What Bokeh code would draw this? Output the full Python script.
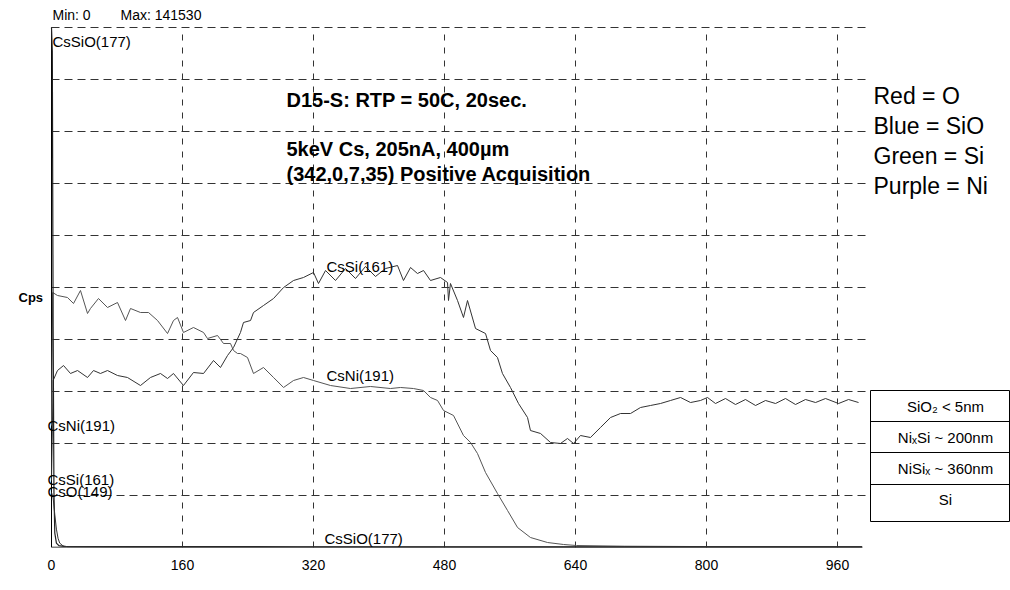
from bokeh.plotting import figure
from bokeh.models import Range1d, Label, FixedTicker
from bokeh.embed import file_html
from bokeh.resources import INLINE

# ---------------- data ----------------
Y_MAX = 141530
X_TICKS = [0, 160, 320, 480, 640, 800, 960]

NI_DEPTH = [0, 1.5, 7.3, 19.5, 26.9, 35.4, 44.0, 47.6, 57.4, 68.4,
            80.6, 90.4, 96.5, 108.7, 118.5, 129.5, 141.7, 149.0, 153.9, 161.2,
            173.4, 185.7, 190.5, 202.8, 210.1, 218.6, 222.3, 227.2, 230.8, 239.4,
            246.7, 258.9, 271.2, 283.4, 295.6, 307.8, 320.0, 340.8, 365.2, 389.6,
            414.1, 426.3, 442.1, 454.4, 462.9, 471.5, 478.8, 491.0, 503.2, 511.8,
            520.3, 530.1, 544.7, 557.0, 569.2, 585.0, 605.8, 625.4, 641.2, 700,
            800, 900, 990]
NI_CPS = [33200, 69400, 68590, 68040, 66410, 69950, 63690, 65050, 67770, 65320,
          66680, 61780, 65050, 63960, 63960, 61780, 58240, 61780, 62600, 58520,
          59880, 58520, 56880, 57700, 55520, 55520, 53620, 52800, 52800, 51710,
          47360, 48990, 46270, 43550, 45450, 46270, 45450, 44090, 43270, 43820,
          43270, 43550, 43270, 42730, 40830, 40010, 37290, 35930, 30480, 28580,
          25580, 20410, 14700, 10070, 5440, 2720, 1360, 820, 540, 350,
          250, 200, 180]

SI_DEPTH = [0, 2, 7.3, 14.7, 23.2, 31.8, 44.0, 51.3, 59.8, 68.4,
            80.6, 92.8, 108.7, 120.9, 133.1, 141.7, 149.0, 161.2, 173.4, 185.7,
            197.9, 206.4, 215.0, 222.3, 230.8, 234.5, 243.1, 246.7, 258.9, 271.2,
            283.4, 295.6, 307.8, 320.0, 326.1, 334.7, 346.9, 359.1, 371.3, 383.5,
            395.7, 408.0, 422.6, 429.9, 438.5, 447.0, 454.4, 462.9, 475.1, 483.7,
            484.9, 487.3, 495.9, 503.2, 508.1, 517.9, 530.1, 536.2, 544.7, 550.8,
            560.6, 570.4, 581.4, 585.0, 597.3, 609.5, 621.7, 630.2, 637.6, 646.1,
            658.3, 670.5, 682.8, 695.0, 707.2, 719.4, 731.6, 743.8, 756.1, 768.3,
            780.5, 792.7, 801.2, 811.0, 823.2, 835.4, 847.6, 859.9, 872.1, 884.3,
            896.5, 908.7, 920.9, 933.2, 945.4, 961.3, 973.5, 985.7]
SI_CPS = [18240, 45450, 48170, 49530, 47360, 48170, 46270, 48170, 47360, 48170,
          46810, 46270, 44090, 46270, 47360, 46000, 47360, 44090, 47630, 47360,
          50900, 48990, 52260, 54430, 58520, 61240, 61780, 63960, 65860, 67770,
          70760, 72670, 73490, 74850, 71850, 75390, 72670, 75930, 73210, 76480,
          73760, 75930, 76750, 72670, 76210, 74570, 75390, 72670, 73490, 72120,
          67220, 71850, 67220, 62600, 67220, 59600, 58240, 53620, 51710, 47360,
          43550, 39190, 35380, 31840, 31030, 28580, 28310, 29670, 28310, 30480,
          29940, 32660, 35380, 36470, 36470, 38100, 38650, 39190, 40010, 40830,
          39460, 40010, 40830, 39190, 40550, 38920, 40280, 38650, 40010, 39190,
          40550, 38920, 40280, 39460, 40550, 39190, 40280, 39460]

SIO_DEPTH = [0, 1, 2, 3, 4, 6, 9, 15, 100, 300, 500, 700, 990]
SIO_CPS = [141530, 135000, 60000, 15000, 4000, 1200, 500, 300, 250, 200, 180, 160, 150]

O_DEPTH = [0, 2, 4, 6, 8, 10, 14, 20, 100, 990]
O_CPS = [14970, 13500, 9000, 5000, 2500, 1200, 450, 200, 120, 100]

LEGEND_LINES = ["Red = O", "Blue = SiO", "Green = Si", "Purple = Ni"]
LAYERS = ["SiO\u2082 < 5nm", "Ni\u2093Si ~ 200nm", "NiSi\u2093 ~ 360nm", "Si"]

# ---------------- layout helpers (canvas pixel -> data) ----------------
W, H = 1010, 590
X0_PX, PX_PER_NM = 51, 131 / 160
AXIS_PX, TOP_PX = 547, 27


def dx(px):
    return (px - X0_PX) / PX_PER_NM


def vy(py):
    return (AXIS_PX - py) * Y_MAX / (AXIS_PX - TOP_PX)


FONT = "Liberation Sans"

p = figure(width=W, height=H, output_backend="svg", toolbar_location=None,
           x_range=Range1d(dx(0), dx(W)), y_range=Range1d(0, vy(0)),
           y_axis_location=None, min_border_left=0, min_border_right=0,
           min_border_top=0, min_border_bottom=H - AXIS_PX,
           outline_line_color=None, background_fill_color="white",
           border_fill_color="white")
p.grid.visible = False

ax = p.xaxis[0]
ax.ticker = FixedTicker(ticks=X_TICKS)
ax.axis_line_color = None
ax.major_tick_line_color = None
ax.minor_tick_line_color = None
ax.major_label_standoff = 6
ax.major_label_text_font = FONT
ax.major_label_text_font_size = "14px"
ax.major_label_text_color = "black"

# grid lines (dashed), limited to the plotting region
grid_end = dx(870)
hy = [Y_MAX * i / 10 for i in range(1, 11)]
p.segment(x0=[0] * len(hy), y0=hy, x1=[grid_end] * len(hy), y1=hy,
          line_color="#333333", line_width=1, line_dash="8 5")
vx = X_TICKS[1:]
p.segment(x0=vx, y0=[0] * len(vx), x1=vx, y1=[Y_MAX] * len(vx),
          line_color="#333333", line_width=1, line_dash="6 7")

# axis lines
p.segment(x0=[0], y0=[0], x1=[dx(862)], y1=[0], line_color="black", line_width=1.5)
p.segment(x0=[0], y0=[0], x1=[0], y1=[Y_MAX], line_color="black", line_width=1)

# curves
p.line(NI_DEPTH, NI_CPS, line_color="#555555", line_width=1)
p.line(SI_DEPTH, SI_CPS, line_color="#333333", line_width=1)
p.line(SIO_DEPTH, SIO_CPS, line_color="#222222", line_width=1.2)
p.line(O_DEPTH, O_CPS, line_color="#333333", line_width=1)


def lab(text, xpx, ypx, size, bold=False, align="left"):
    p.add_layout(Label(x=dx(xpx), y=vy(ypx), text=text, text_font=FONT,
                       text_font_size=f"{size}px",
                       text_font_style="bold" if bold else "normal",
                       text_baseline="middle", text_align=align,
                       text_color="black"))


lab("Min: 0", 52, 14, 14)
lab("Max: 141530", 120, 14, 14)
lab("Cps", 18, 297, 13, bold=True)
lab("Depth (nm)", 482, 581, 13, bold=True, align="center")

lab("D15-S: RTP = 50C, 20sec.", 286, 99, 20, bold=True)
lab("5keV Cs, 205nA, 400\u00b5m", 286, 148, 20, bold=True)
lab("(342,0,7,35) Positive Acquisition", 286, 173, 20, bold=True)

for txt, ypx in zip(LEGEND_LINES, [95, 125, 155, 185]):
    lab(txt, 873, ypx, 23)

# curve labels
lab("CsSiO(177)", 52, 41, 15)
lab("CsNi(191)", 47, 425, 15)
lab("CsSi(161)", 47, 479, 15)
lab("CsO(149)", 47, 491, 15)
lab("CsSi(161)", 326, 266, 15)
lab("CsNi(191)", 326, 375, 15)
lab("CsSiO(177)", 324, 538, 15)

# layer stack box
rows_px = [390, 421, 452, 484, 521]
p.quad(left=[dx(870)], right=[dx(1009)], top=[vy(rows_px[0])], bottom=[vy(rows_px[-1])],
       fill_color="white", line_color="black", line_width=1)
sep = [vy(r) for r in rows_px[1:-1]]
p.segment(x0=[dx(870)] * len(sep), y0=sep, x1=[dx(1009)] * len(sep), y1=sep,
          line_color="black", line_width=1)
for txt, ypx in zip(LAYERS, [406, 437, 468, 499]):
    lab(txt, 945, ypx, 15, align="center")

open("out.html", "w").write(file_html(p, INLINE))
